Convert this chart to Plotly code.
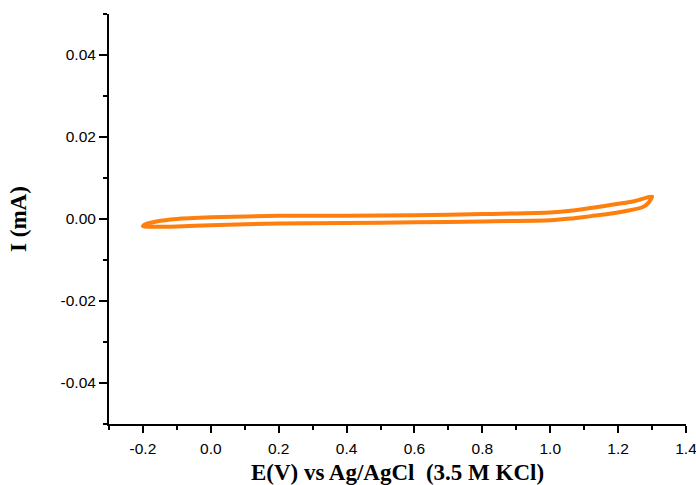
import plotly.graph_objects as go

# Forward (anodic) scan
E_forward = [-0.2, -0.19, -0.16, -0.1, 0.0, 0.2, 0.4, 0.6, 0.8, 1.0, 1.06, 1.12, 1.2, 1.25, 1.3]
I_forward = [-0.0018, -0.0012, -0.0006, 0.0000, 0.0004, 0.0008, 0.0008, 0.0009, 0.0012, 0.0016, 0.0020, 0.0027, 0.0037, 0.0044, 0.0055]

# Reverse (cathodic) scan
E_reverse = [1.3, 1.29, 1.27, 1.22, 1.17, 1.12, 1.06, 1.0, 0.8, 0.6, 0.4, 0.2, 0.0, -0.1, -0.16, -0.2]
I_reverse = [0.0055, 0.0040, 0.0028, 0.0019, 0.0012, 0.0007, 0.0001, -0.0003, -0.0006, -0.0008, -0.0010, -0.0011, -0.0015, -0.0018, -0.0019, -0.0018]

x_tickvals = [-0.2, 0.0, 0.2, 0.4, 0.6, 0.8, 1.0, 1.2, 1.4]
x_ticktext = ["-0.2", "0.0", "0.2", "0.4", "0.6", "0.8", "1.0", "1.2", "1.4"]
x_minor = [-0.3, -0.1, 0.1, 0.3, 0.5, 0.7, 0.9, 1.1, 1.3]
y_tickvals = [-0.04, -0.02, 0.0, 0.02, 0.04]
y_ticktext = ["-0.04", "-0.02", "0.00", "0.02", "0.04"]
y_minor = [-0.05, -0.03, -0.01, 0.01, 0.03, 0.05]

E_all = E_forward + E_reverse[1:]
I_all = I_forward + I_reverse[1:]

fig = go.Figure()
fig.add_trace(go.Scatter(
    x=E_all, y=I_all, mode="lines",
    line=dict(color="#FF7F0E", width=4, shape="spline", smoothing=0.6),
    showlegend=False,
))

tick_font = dict(family="Liberation Sans, Arial, sans-serif", size=15.5, color="black")
title_font = dict(family="Liberation Serif, Times New Roman, serif", size=23, color="black")

fig.update_layout(
    width=696, height=485,
    margin=dict(l=109, r=10, t=14, b=61),
    paper_bgcolor="white", plot_bgcolor="white",
    xaxis=dict(
        range=[-0.3, 1.4], showgrid=False, zeroline=False, automargin=False,
        showline=True, linecolor="black", linewidth=2,
        ticks="outside", ticklen=7, tickwidth=1.5, tickcolor="black",
        tickmode="array", tickvals=x_tickvals, ticktext=x_ticktext,
        tickfont=tick_font, ticklabelstandoff=2, ticklabeloverflow="allow",
        minor=dict(tickmode="array", tickvals=x_minor, ticks="outside", ticklen=4, tickwidth=1.5, tickcolor="black"),
        title=dict(text="<b>E(V) vs Ag/AgCl\u00a0 (3.5 M KCl)</b>", font=title_font, standoff=10),
    ),
    yaxis=dict(
        range=[-0.05, 0.05], showgrid=False, zeroline=False, automargin=False,
        showline=True, linecolor="black", linewidth=2,
        ticks="outside", ticklen=8, tickwidth=1.5, tickcolor="black",
        tickmode="array", tickvals=y_tickvals, ticktext=y_ticktext,
        tickfont=tick_font, ticklabeloverflow="allow",
        minor=dict(tickmode="array", tickvals=y_minor, ticks="outside", ticklen=4, tickwidth=1.5, tickcolor="black"),
        title=dict(text="<b>I (mA)</b>", font=title_font, standoff=28),
    ),
)

fig.write_html(
    "out.html",
    config={"displayModeBar": False},
    post_script="document.body.style.margin='0';document.body.style.padding='0';",
)
